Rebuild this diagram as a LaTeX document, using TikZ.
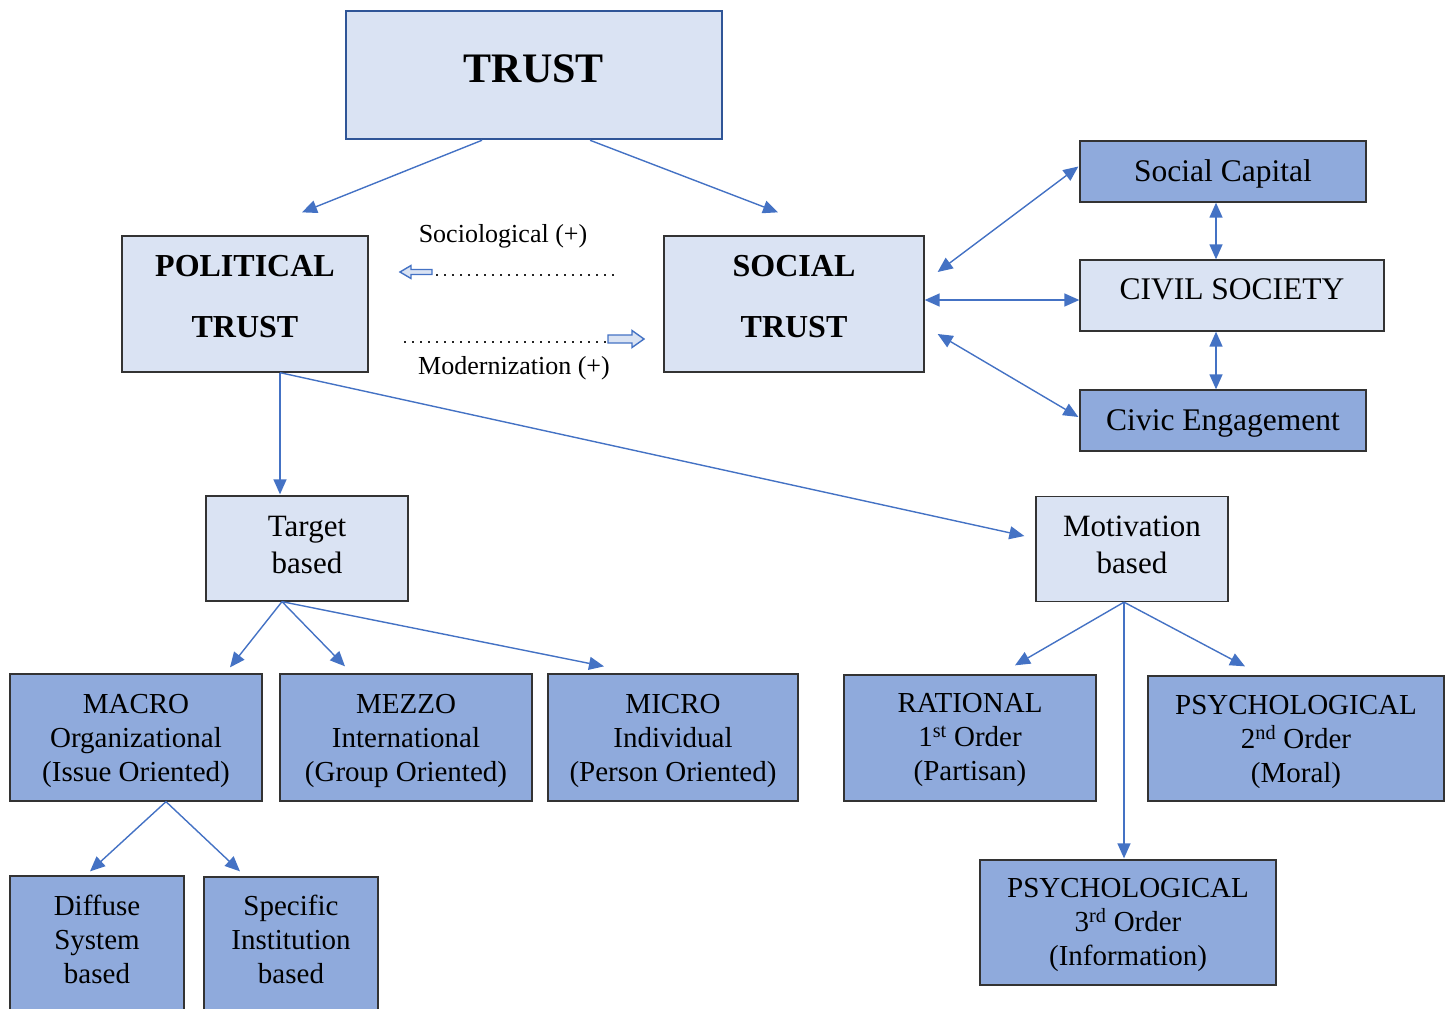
\documentclass[tikz,border=0pt]{standalone}
\usepackage{fontspec}
\setmainfont{Liberation Serif}
\usetikzlibrary{arrows.meta}

\definecolor{lightfill}{HTML}{DAE3F3}
\definecolor{midfill}{HTML}{8FAADC}
\definecolor{linkblue}{HTML}{4472C4}
\definecolor{topedge}{HTML}{2F5597}
\definecolor{boxedge}{HTML}{333333}

% centred block of lines, moved up by #1 without changing its size
\newcommand{\liftup}[2]{\raisebox{#1}[\height][\depth]{\begin{tabular}{@{}c@{}}#2\end{tabular}}}

\begin{document}
\begin{tikzpicture}[x=1pt,y=-1pt,
  box/.style={draw=boxedge, line width=1.3pt, inner sep=0pt, align=center},
  lightbox/.style={box, fill=lightfill},
  midbox/.style={box, fill=midfill},
  headfont/.style={font=\fontsize{32}{61}\selectfont\bfseries},
  sidefont/.style={font=\fontsize{31.5}{37}\selectfont},
  upperfont/.style={font=\fontsize{31}{37}\selectfont},
  lowerfont/.style={font=\fontsize{29}{34}\selectfont},
  notefont/.style={font=\fontsize{26}{30}\selectfont},
  link/.style={draw=linkblue, line width=1.4pt, -{Triangle[length=15pt,width=13pt]}},
  twoway/.style={draw=linkblue, line width=1.4pt, {Triangle[length=15pt,width=13pt]}-{Triangle[length=15pt,width=13pt]}},
  dotline/.style={draw=black!85, line width=2pt, dash pattern=on 2pt off 6pt},
  blockarrow/.style={draw=linkblue, line width=1.4pt, fill=lightfill},
]
\useasboundingbox (0,0) rectangle (1451,1009);

% top level
\node[box, draw=topedge, line width=2.5pt, fill=lightfill, minimum width=376, minimum height=128,
      font=\fontsize{42}{50}\selectfont\bfseries] (trust) at (534,75) {\liftup{3pt}{TRUST}};

% second level
\node[lightbox, headfont, minimum width=246, minimum height=136] (pol) at (245,304) {\liftup{9pt}{POLITICAL\\TRUST}};
\node[lightbox, headfont, minimum width=260, minimum height=136] (soc) at (794,304) {\liftup{9pt}{SOCIAL\\TRUST}};

% social trust components
\node[midbox, sidefont, minimum width=286, minimum height=61] (cap) at (1223,171.5) {\liftup{-3pt}{Social Capital}};
\node[lightbox, sidefont, minimum width=304, minimum height=71] (civ) at (1232,295.5) {\liftup{3pt}{CIVIL SOCIETY}};
\node[midbox, sidefont, minimum width=286, minimum height=61] (civic) at (1223,420.5) {\liftup{-3pt}{Civic Engagement}};

% political trust branches
\node[lightbox, upperfont, minimum width=202, minimum height=105] (target) at (307,548.5) {\liftup{1pt}{Target\\based}};
\node[lightbox, upperfont, minimum width=192, minimum height=105] (motiv) at (1132,549) {\liftup{1pt}{Motivation\\based}};

% target based
\node[midbox, lowerfont, minimum width=252, minimum height=127] (macro) at (136,737.5) {\liftup{-3pt}{MACRO\\Organizational\\(Issue Oriented)}};
\node[midbox, lowerfont, minimum width=252, minimum height=127] (mezzo) at (406,737.5) {\liftup{-3pt}{MEZZO\\International\\(Group Oriented)}};
\node[midbox, lowerfont, minimum width=250, minimum height=127] (micro) at (673,737.5) {\liftup{-3pt}{MICRO\\Individual\\(Person Oriented)}};

% motivation based
\node[midbox, lowerfont, minimum width=252, minimum height=126] (rational) at (970,738) {\liftup{-2pt}{RATIONAL\\1\textsuperscript{st} Order\\(Partisan)}};
\node[midbox, lowerfont, minimum width=296, minimum height=125] (psytwo) at (1296,738.5) {\liftup{-3pt}{PSYCHOLOGICAL\\2\textsuperscript{nd} Order\\(Moral)}};
\node[midbox, lowerfont, minimum width=296, minimum height=125] (psythree) at (1128,922.5) {\liftup{-2pt}{PSYCHOLOGICAL\\3\textsuperscript{rd} Order\\(Information)}};

% macro split (boxes run past the lower edge)
\node[midbox, lowerfont, minimum width=174, minimum height=160] (diffuse) at (97,956) {\liftup{13pt}{Diffuse\\System\\based}};
\node[midbox, lowerfont, minimum width=174, minimum height=160] (specific) at (291,957) {\liftup{14pt}{Specific\\Institution\\based}};

% connectors
\draw[link] ([xshift=-52pt]trust.south) -- ([xshift=57pt,yshift=23pt]pol.north);
\draw[link] ([xshift=56pt]trust.south) -- ([xshift=-16pt,yshift=23pt]soc.north);

\draw[twoway] ([xshift=13pt,yshift=32pt]soc.east) -- ([xshift=-1pt,yshift=5pt]cap.west);
\draw[twoway] ([yshift=4pt]soc.east) -- ([yshift=-4.5pt]civ.west);
\draw[twoway] ([xshift=13pt,yshift=-30pt]soc.east) -- ([xshift=-1pt,yshift=3.5pt]civic.west);
\draw[twoway] ([xshift=-7pt]cap.south) -- ([xshift=-16pt]civ.north);
\draw[twoway] ([xshift=-16pt]civ.south) -- ([xshift=-7pt]civic.north);

\draw[link] ([xshift=35pt]pol.south) -- ([xshift=-27pt,yshift=1pt]target.north);
\draw[link] ([xshift=35pt]pol.south) -- ([xshift=-11pt,yshift=13pt]motiv.west);

\draw[link] ([xshift=-25pt]target.south) -- ([xshift=94pt,yshift=6pt]macro.north);
\draw[link] ([xshift=-25pt]target.south) -- ([xshift=-61pt,yshift=7pt]mezzo.north);
\draw[link] ([xshift=-25pt]target.south) -- ([xshift=-69pt,yshift=7pt]micro.north);

\draw[link] ([xshift=-8pt]motiv.south) -- ([xshift=45pt,yshift=9pt]rational.north);
\draw[link] ([xshift=-8pt]motiv.south) -- ([xshift=-51pt,yshift=9pt]psytwo.north);
\draw[link] ([xshift=-8pt]motiv.south) -- ([xshift=-4pt,yshift=1pt]psythree.north);

\draw[link] ([xshift=30pt]macro.south) -- ([xshift=-7pt,yshift=4pt]diffuse.north);
\draw[link] ([xshift=30pt]macro.south) -- ([xshift=-51pt,yshift=5pt]specific.north);

% directions of influence between the two kinds of trust
\node[notefont] (sociol) at (503,236) {Sociological (+)};
\node[notefont] (modern) at (514,368) {Modernization (+)};

\coordinate (sociolA) at (614,275);
\coordinate (sociolB) at (433,275);
\draw[dotline] (sociolA) -- (sociolB);
\draw[blockarrow] (432,269.5) -- (411,269.5) -- (411,265.5) -- (400,272) -- (411,278.5) -- (411,274.5) -- (432,274.5) -- cycle;

\coordinate (modernA) at (404,342);
\coordinate (modernB) at (607,342);
\draw[dotline] (modernA) -- (modernB);
\draw[blockarrow] (608,335) -- (632,335) -- (632,330.5) -- (644,339) -- (632,347.5) -- (632,343) -- (608,343) -- cycle;

\end{tikzpicture}
\end{document}
